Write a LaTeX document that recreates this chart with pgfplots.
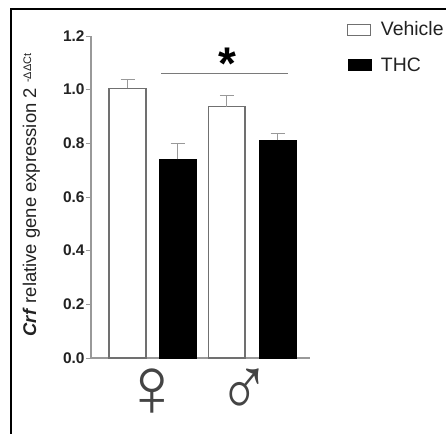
\documentclass[border=0pt]{standalone}
\usepackage{fontspec}
\setmainfont{Liberation Sans}
\newfontfamily\sym{Liberation Sans}
\usepackage{pgfplots}
\pgfplotsset{compat=1.18}
\definecolor{axisg}{HTML}{999999}
\definecolor{barb}{HTML}{707070}
\definecolor{txt}{HTML}{222222}
\definecolor{symc}{HTML}{444444}
\begin{document}
\begin{tikzpicture}[x=1bp,y=1bp]
\useasboundingbox (0,0) rectangle (446,434);
\fill[white] (0,0) rectangle (446,434);
\draw[black,line width=2.5bp] (11,0) -- (11,425) -- (446,425);
\begin{axis}[
  at={(91bp,76bp)},anchor=origin,
  scale only axis,width=219bp,height=322bp,
  xmin=91,xmax=310,ymin=0,ymax=1.2,
  clip=false,
  axis lines=left,
  axis line style={-,color=axisg,line width=1.1bp},
  xtick=\empty,
  ytick={0,0.2,0.4,0.6,0.8,1.0,1.2},
  major tick length=5bp,
  tick style={color=axisg,line width=0.8bp},
  tick align=outside,
  /pgf/number format/assume math mode=true,
  /pgf/number format/fixed,/pgf/number format/fixed zerofill,/pgf/number format/precision=1,
  yticklabel style={font=\fontsize{15.5}{18}\selectfont\bfseries,text=txt,xshift=2bp},
  ylabel={\textbf{\textit{Crf}} relative gene expression 2 \raisebox{5bp}{\fontsize{11}{12}\selectfont -ΔΔCt}},
  ylabel style={at={(axis description cs:-0.251,0.506)},anchor=base,font=\fontsize{18.5}{20}\selectfont,text=txt},
  legend style={at={(1.17,1.05)},anchor=north west,draw=none,fill=none,
    font=\fontsize{19.5}{22}\selectfont,text=txt,
    /tikz/every odd column/.append style={column sep=7.5bp},row sep=16bp,inner sep=0pt,outer sep=0pt},
  legend cell align=left,
]
\addplot[ybar,bar shift=0pt,bar width=36.5bp,draw=barb,fill=white,line width=1.6bp,
  legend image code/.code={\draw[draw=barb,fill=white,line width=1.2bp] (0bp,-5.5bp) rectangle (23bp,5.5bp);},
  error bars/.cd,y dir=plus,y explicit,error mark options={rotate=90,mark size=7bp,color=axisg,line width=1bp},
  error bar style={color=axisg,line width=1bp}]
  coordinates {(127.5,1.005) +- (0,0.031) (226.75,0.937) +- (0,0.04)};
\addlegendentry{Vehicle}
\addplot[ybar,bar shift=0pt,bar width=37bp,draw=black,fill=black,line width=0.5bp,
  legend image code/.code={\draw[draw=black,fill=black] (0bp,-5.5bp) rectangle (23bp,5.5bp);},
  error bars/.cd,y dir=plus,y explicit,error mark options={rotate=90,mark size=7bp,color=axisg,line width=1bp},
  error bar style={color=axisg,line width=1bp}]
  coordinates {(177.5,0.74) +- (0,0.06) (277.5,0.812) +- (0,0.026)};
\addlegendentry{THC}
\addplot[forget plot,color=axisg!80!black,line width=1bp] coordinates {(161,1.06) (288,1.06)};
\node[font=\fontsize{46}{46}\selectfont\bfseries,text=black,anchor=north,inner sep=0pt] at (axis cs:227,1.155) {*};
\node[font=\sym\fontsize{85}{85}\selectfont,text=symc,inner sep=0pt] at (axis cs:152,-0.13) {♀};
\node[font=\sym\fontsize{85}{85}\selectfont,text=symc,inner sep=0pt,xscale=0.82] at (axis cs:245,-0.13) {♂};
\end{axis}
\end{tikzpicture}
\end{document}
